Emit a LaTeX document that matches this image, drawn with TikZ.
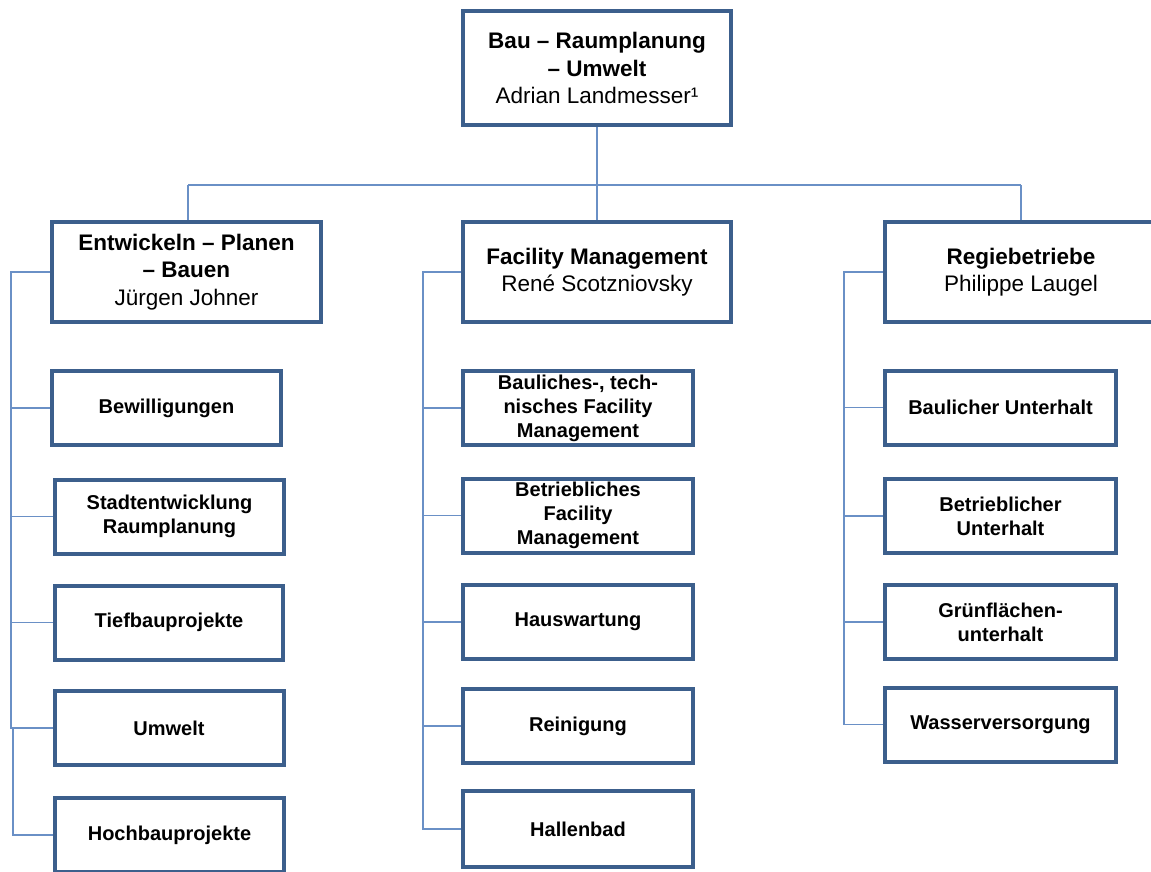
\documentclass[tikz,border=0pt]{standalone}
\usepackage{fontspec}
\setmainfont{Liberation Sans}
\definecolor{boxcol}{HTML}{3C5F8C}
\definecolor{linecol}{HTML}{6A90C6}
\tikzset{
  orgbox/.style={draw=boxcol, line width=4pt, fill=white, inner sep=0pt, align=center},
  headbox/.style={orgbox, minimum width=268pt, minimum height=100pt, font=\fontsize{22.5}{27.5}\selectfont},
  unitbox/.style={orgbox, minimum width=230pt, minimum height=74pt, font=\bfseries\fontsize{20}{24}\selectfont},
  conn/.style={draw=linecol, line width=1.5pt}
}
\begin{document}
\begin{tikzpicture}[x=1pt, y=-1pt]
\useasboundingbox (0,0) rectangle (1151,871);
\clip (0,0) rectangle (1151,871);
% top
\node[headbox, minimum height=114pt] (top) at (597,68) {\textbf{Bau – Raumplanung}\\\textbf{– Umwelt}\\Adrian Landmesser¹};
% level 2
\node[headbox, minimum width=269pt] (epb) at (186.5,272) {\textbf{Entwickeln – Planen}\\\textbf{– Bauen}\\Jürgen Johner};
\node[headbox] (fm) at (597,272) {\textbf{Facility Management}\\René Scotzniovsky};
\node[headbox, minimum width=272pt] (rb) at (1021,272) {\textbf{Regiebetriebe}\\Philippe Laugel};
% left units
\node[unitbox, minimum width=229pt] (bew) at (166.5,408) {Bewilligungen};
\node[unitbox, minimum width=229pt] (stadt) at (169.5,516.5) {Stadtentwicklung\\Raumplanung};
\node[unitbox, minimum width=228pt] (tief) at (169,622.5) {Tiefbauprojekte};
\node[unitbox, minimum width=229pt] (umw) at (169,728) {Umwelt};
\node[unitbox, minimum width=229pt] (hoch) at (169.5,835) {Hochbauprojekte};
% middle units
\node[unitbox] (bau) at (578,408) {Bauliches-, tech-\\nisches Facility\\Management};
\node[unitbox] (betr) at (578,515.5) {Betriebliches\\Facility\\Management};
\node[unitbox] (haus) at (578,622) {Hauswartung};
\node[unitbox] (rein) at (578,726) {Reinigung};
\node[unitbox, minimum height=76pt] (hall) at (578,829) {Hallenbad};
% right units
\node[unitbox, minimum width=231pt] (bu) at (1000.5,407.5) {Baulicher Unterhalt};
\node[unitbox, minimum width=231pt] (betu) at (1000.5,516) {Betrieblicher\\Unterhalt};
\node[unitbox, minimum width=231pt] (gru) at (1000.5,622) {Grünflächen-\\unterhalt};
\node[unitbox, minimum width=231pt] (wass) at (1000.5,724.5) {Wasserversorgung};
% connectors
\coordinate (busL) at (188,185);
\coordinate (busR) at (1021,185);
\coordinate (lb) at (11,272);
\coordinate (lb2) at (13,728);
\coordinate (mb) at (423,272);
\coordinate (rbus) at (844,272);
\draw[conn] (top.south) -- (fm.north);
\draw[conn] (busL) -- (busR);
\draw[conn] (busL) -- (busL |- epb.north);
\draw[conn] (busR) -- (rb.north);
% left column
\draw[conn] (epb.west) -- (lb) |- (umw.west);
\draw[conn] (lb) |- (bew.west);
\draw[conn] (lb) |- (stadt.west);
\draw[conn] (lb) |- (tief.west);
\draw[conn] (lb2) |- (hoch.west);
% middle column
\draw[conn] (fm.west) -- (mb) |- (hall.west);
\draw[conn] (mb) |- (bau.west);
\draw[conn] (mb) |- (betr.west);
\draw[conn] (mb) |- (haus.west);
\draw[conn] (mb) |- (rein.west);
% right column
\draw[conn] (rb.west) -- (rbus) |- (wass.west);
\draw[conn] (rbus) |- (bu.west);
\draw[conn] (rbus) |- (betu.west);
\draw[conn] (rbus) |- (gru.west);
\end{tikzpicture}
\end{document}
